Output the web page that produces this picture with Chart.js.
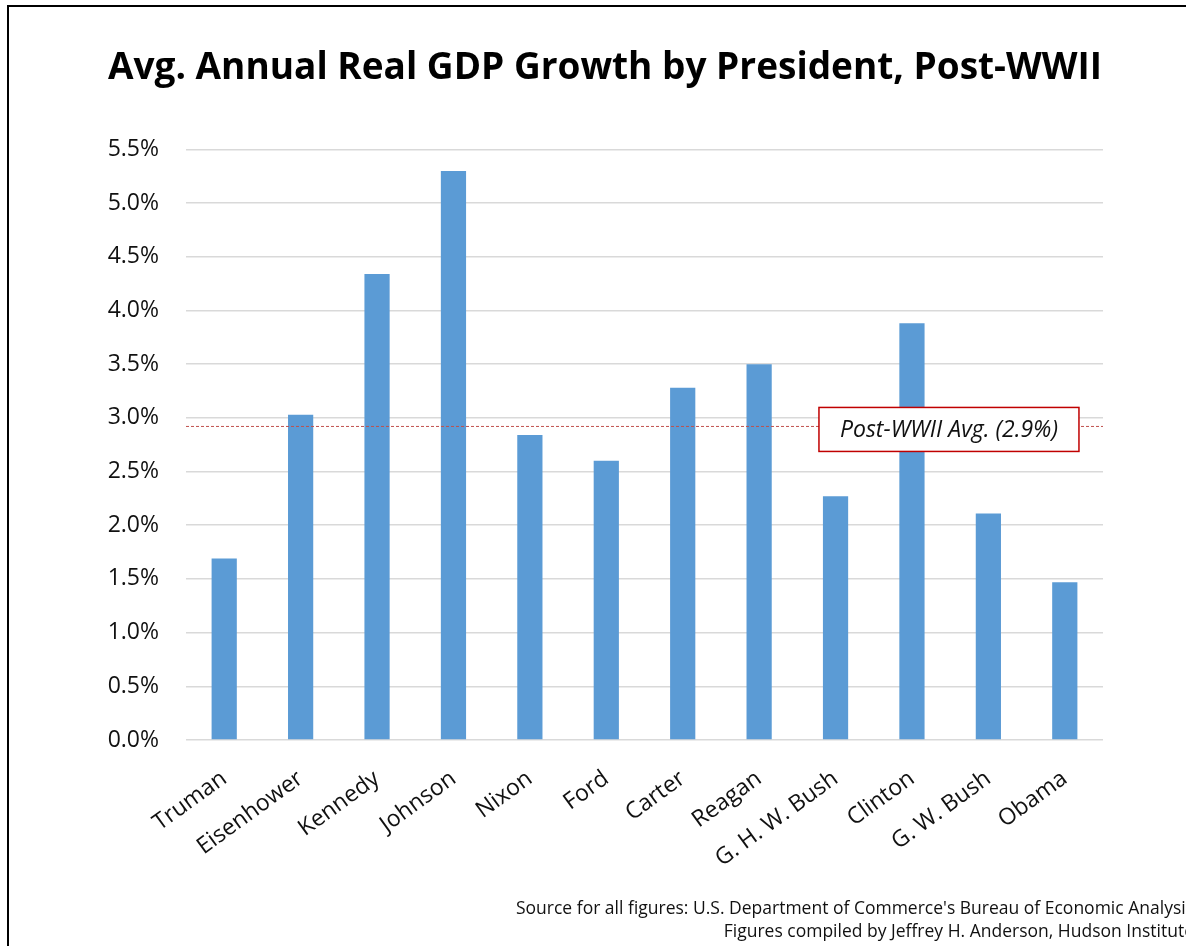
<!DOCTYPE html>
<html>
<head>
<meta charset="utf-8">
<script src="https://cdn.jsdelivr.net/npm/chart.js@4"></script>
<style>
  html, body { margin: 0; padding: 0; background: #fff; overflow: hidden; }
  #wrap { position: relative; width: 1186px; height: 946px; }
  #frame { position: absolute; left: 7px; top: 5px; width: 1300px; height: 1100px;
           border-left: 2px solid #000; border-top: 2px solid #000; }
  .foot { position: absolute; right: -8px; font-family: "Open Sans", sans-serif; font-size: 17.5px;
          color: #111; white-space: nowrap; text-align: right; }
</style>
</head>
<body>
<div id="wrap">
  <canvas id="chart" width="1186" height="946"></canvas>
  <div id="frame"></div>
  <div class="foot" style="top:895px">Source for all figures: U.S. Department of Commerce's Bureau of Economic Analysis</div>
  <div class="foot" style="top:918px">Figures compiled by Jeffrey H. Anderson, Hudson Institute</div>
</div>
<script>
const presidents = ["Truman", "Eisenhower", "Kennedy", "Johnson", "Nixon", "Ford",
  "Carter", "Reagan", "G. H. W. Bush", "Clinton", "G. W. Bush", "Obama"];
const growth = [1.69, 3.03, 4.34, 5.30, 2.84, 2.60, 3.28, 3.50, 2.27, 3.88, 2.11, 1.47];
const postWarAvg = 2.92;
const avgLabel = "Post-WWII Avg. (2.9%)";

// dashed average line + boxed label, drawn over the bars
const avgLine = {
  id: "avgLine",
  afterDatasetsDraw(chart) {
    const { ctx, chartArea, scales } = chart;
    const y = scales.y.getPixelForValue(postWarAvg);
    ctx.save();
    ctx.strokeStyle = "#c0504d";
    ctx.lineWidth = 1;
    ctx.setLineDash([3, 2]);
    ctx.beginPath();
    ctx.moveTo(chartArea.left, y);
    ctx.lineTo(chartArea.right, y);
    ctx.stroke();
    ctx.setLineDash([]);

    const bx = scales.x.getPixelForValue(9) - 93, bw = 260, bh = 44;
    const by = y - 19;
    ctx.fillStyle = "#fff";
    ctx.fillRect(bx, by, bw, bh);
    ctx.strokeStyle = "#c00000";
    ctx.lineWidth = 1.5;
    ctx.strokeRect(bx, by, bw, bh);
    ctx.fillStyle = "#111";
    ctx.font = "italic 23px 'Open Sans'";
    ctx.textAlign = "center";
    ctx.textBaseline = "middle";
    ctx.fillText(avgLabel, bx + bw / 2, by + bh / 2 + 1);
    ctx.restore();
  }
};

new Chart(document.getElementById("chart").getContext("2d"), {
  type: "bar",
  data: {
    labels: presidents,
    datasets: [{
      data: growth,
      backgroundColor: "#5b9bd5",
      barPercentage: 0.33,
      categoryPercentage: 1.0
    }]
  },
  options: {
    responsive: false,
    animation: false,
    layout: { padding: { left: 107, right: 83, top: 0, bottom: 0 } },
    plugins: {
      legend: { display: false },
      tooltip: { enabled: false },
      title: {
        display: true,
        text: "Avg. Annual Real GDP Growth by President, Post-WWII",
        color: "#000",
        font: { family: "Open Sans", size: 37, weight: "bold" },
        padding: { top: 46, bottom: 59 }
      }
    },
    scales: {
      y: {
        min: 0, max: 5.5,
        border: { display: false },
        grid: { color: "#d9d9d9", lineWidth: 1.5, drawTicks: false },
        ticks: {
          stepSize: 0.5,
          color: "#111",
          padding: 27,
          font: { family: "Open Sans", size: 23 },
          callback: v => v.toFixed(1) + "%"
        },
        afterFit(scale) { scale.width = 79; }
      },
      x: {
        border: { display: false },
        grid: { display: false },
        ticks: {
          color: "#111",
          minRotation: 36, maxRotation: 36,
          padding: 17,
          font: { family: "Open Sans", size: 23 }
        },
        afterFit(scale) { scale.height = 206; }
      }
    }
  },
  plugins: [avgLine]
});
</script>
</body>
</html>
